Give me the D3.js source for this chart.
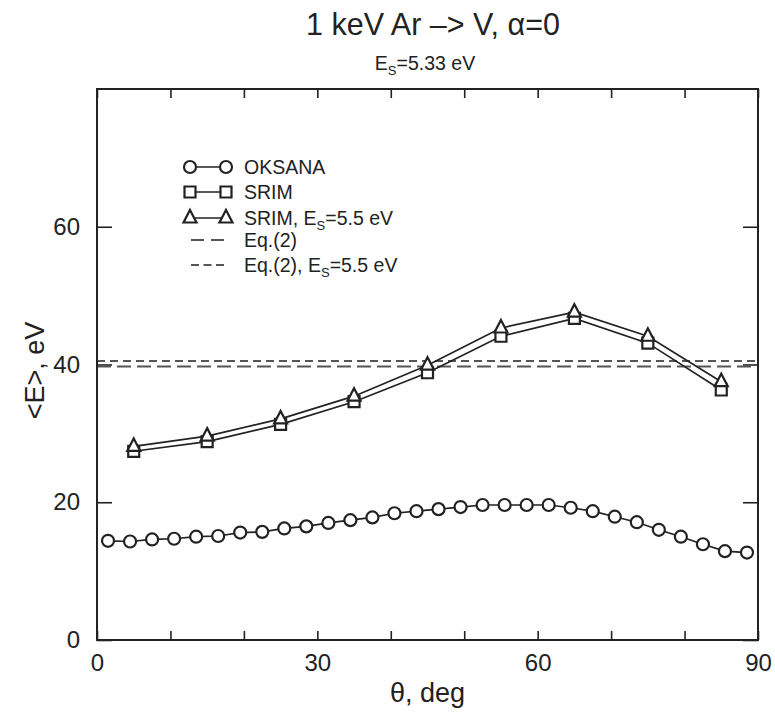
<!DOCTYPE html>
<html>
<head>
<meta charset="utf-8">
<script src="https://cdn.jsdelivr.net/npm/d3@7"></script>
<style>
  body { margin: 0; background: #fff; }
  text { font-family: "Liberation Sans", Arial, Helvetica, sans-serif; fill: #222; }
</style>
</head>
<body>
<div id="chart"></div>
<script>
// OKSANA results
const thetaOksana = [1.5, 4.5, 7.5, 10.5, 13.5, 16.5, 19.5, 22.5, 25.5, 28.5,
  31.5, 34.5, 37.5, 40.5, 43.5, 46.5, 49.5, 52.5, 55.5, 58.5,
  61.5, 64.5, 67.5, 70.5, 73.5, 76.5, 79.5, 82.5, 85.5, 88.5];
const eOksana = [14.4, 14.3, 14.6, 14.7, 15.0, 15.1, 15.6, 15.7, 16.2, 16.5,
  17.0, 17.4, 17.8, 18.4, 18.7, 19.0, 19.3, 19.6, 19.6, 19.6,
  19.6, 19.2, 18.7, 17.9, 17.1, 16.0, 15.0, 13.9, 12.9, 12.7];

// SRIM results
const thetaSrim = [5, 15, 25, 35, 45, 55, 65, 75, 85];
const eSrim = [27.4, 28.8, 31.3, 34.6, 38.8, 44.1, 46.7, 43.1, 36.3];
const eSrim55 = [28.1, 29.6, 32.1, 35.4, 39.9, 45.3, 47.6, 44.1, 37.5];

// Eq.(2) levels
const eq2 = 39.7;
const eq2Es55 = 40.5;

const xTicks = [0, 10, 20, 30, 40, 50, 60, 70, 80, 90];
const xLabels = [0, 30, 60, 90];
const yTicks = [0, 20, 40, 60];

const W = 775, H = 712;
const margin = { top: 89, right: 17, bottom: 72, left: 97 },
  width = W - margin.left - margin.right,
  height = H - margin.top - margin.bottom;

const x = d3.scaleLinear().domain([0, 90]).range([0, width]);
const y = d3.scaleLinear().domain([0, 80]).range([height, 0]);

const svgRoot = d3.select("#chart").append("svg")
  .attr("width", W).attr("height", H);

// title
svgRoot.append("text")
  .attr("x", 433).attr("y", 35)
  .attr("text-anchor", "middle")
  .style("font-size", "30.5px")
  .text("1 keV Ar \u2013> V, \u03b1=0");

const sub = svgRoot.append("text")
  .attr("x", 425).attr("y", 70)
  .attr("text-anchor", "middle")
  .style("font-size", "19.5px");
sub.append("tspan").text("E");
sub.append("tspan").attr("dy", 5).style("font-size", "13px").text("S");
sub.append("tspan").attr("dy", -5).text("=5.33 eV");

const svg = svgRoot.append("g")
  .attr("transform", "translate(" + margin.left + "," + margin.top + ")");

// axes, ticks point inward
const fmtX = (d) => (xLabels.includes(d) ? d : "");
const styleAxis = (g) => {
  g.select(".domain").remove();
  g.selectAll("line").attr("stroke", "#222").attr("stroke-width", 1.6);
  g.selectAll("text").style("font-size", "24px").attr("fill", "#222");
};

svg.append("g")
  .attr("transform", "translate(0," + height + ")")
  .call(d3.axisBottom(x).tickValues(xTicks).tickFormat(fmtX).tickSize(-9).tickPadding(14))
  .call(styleAxis);
svg.append("g")
  .call(d3.axisTop(x).tickValues(xTicks).tickFormat("").tickSize(-9))
  .call(styleAxis);
svg.append("g")
  .call(d3.axisLeft(y).tickValues(yTicks).tickSize(-15).tickPadding(17))
  .call(styleAxis);
svg.append("g")
  .attr("transform", "translate(" + width + ",0)")
  .call(d3.axisRight(y).tickValues(yTicks).tickFormat("").tickSize(-15))
  .call(styleAxis);

// axis titles
svg.append("text")
  .attr("x", width / 2).attr("y", height + 62)
  .attr("text-anchor", "middle")
  .style("font-size", "27px")
  .text("\u03b8, deg");
svg.append("text")
  .attr("transform", "rotate(-90)")
  .attr("x", -height / 2 - 6).attr("y", -53)
  .attr("text-anchor", "middle")
  .style("font-size", "27px")
  .text("<E>, eV");

// Eq.(2) lines
svg.append("line")
  .attr("x1", 0).attr("x2", width)
  .attr("y1", y(eq2)).attr("y2", y(eq2))
  .attr("stroke", "#555").attr("stroke-width", 2)
  .attr("stroke-dasharray", "14,6");
svg.append("line")
  .attr("x1", 0).attr("x2", width)
  .attr("y1", y(eq2Es55)).attr("y2", y(eq2Es55))
  .attr("stroke", "#555").attr("stroke-width", 2)
  .attr("stroke-dasharray", "8,5");

const line = d3.line().x((d) => x(d[0])).y((d) => y(d[1]));
const pts = (xs, ys) => xs.map((v, i) => [v, ys[i]]);

const drawLine = (data) => {
  svg.append("path").datum(data)
    .attr("fill", "none").attr("stroke", "#222").attr("stroke-width", 1.7)
    .attr("d", line);
};

const circlePath = "M6,0A6,6 0 1,1 -6,0A6,6 0 1,1 6,0Z";
const squarePath = "M-5.5,-5.5H5.5V5.5H-5.5Z";
const trianglePath = "M0,-8L6.5,4.5H-6.5Z";

const drawMarkers = (data, shape) => {
  svg.append("g").selectAll("path").data(data).enter().append("path")
    .attr("transform", (d) => "translate(" + x(d[0]) + "," + y(d[1]) + ")")
    .attr("d", shape)
    .attr("fill", "#fff").attr("stroke", "#222").attr("stroke-width", 2.2);
};

const srim = pts(thetaSrim, eSrim);
const srim55 = pts(thetaSrim, eSrim55);
const oks = pts(thetaOksana, eOksana);

drawLine(srim);
drawLine(srim55);
drawMarkers(srim, squarePath);
drawMarkers(srim55, trianglePath);
drawLine(oks);
drawMarkers(oks, circlePath);

// frame
svg.append("rect")
  .attr("width", width).attr("height", height)
  .attr("fill", "none").attr("stroke", "#222").attr("stroke-width", 2);

// legend
const legend = svgRoot.append("g");
const legendItems = [
  { y: 167, kind: "marker", shape: circlePath, label: [["OKSANA"]] },
  { y: 192, kind: "marker", shape: squarePath, label: [["SRIM"]] },
  { y: 218, kind: "marker", shape: trianglePath, label: [["SRIM, E"], ["S", 1], ["=5.5 eV"]] },
  { y: 240, kind: "dash", dash: "13,7", label: [["Eq.(2)"]] },
  { y: 265, kind: "dash", dash: "8,4.5", label: [["Eq.(2), E"], ["S", 1], ["=5.5 eV"]] },
];
legendItems.forEach((it) => {
  if (it.kind === "marker") {
    legend.append("line")
      .attr("x1", 190).attr("x2", 226).attr("y1", it.y).attr("y2", it.y)
      .attr("stroke", "#222").attr("stroke-width", 1.7);
    [190, 226].forEach((cx) => {
      legend.append("path")
        .attr("transform", "translate(" + cx + "," + it.y + ")")
        .attr("d", it.shape)
        .attr("fill", "#fff").attr("stroke", "#222").attr("stroke-width", 2.2);
    });
  } else {
    legend.append("line")
      .attr("x1", 191).attr("x2", 224).attr("y1", it.y).attr("y2", it.y)
      .attr("stroke", "#555").attr("stroke-width", 2)
      .attr("stroke-dasharray", it.dash);
  }
  const t = legend.append("text")
    .attr("x", 244).attr("y", it.y + 7)
    .style("font-size", "19.5px");
  let shifted = false;
  it.label.forEach(([s, isSub]) => {
    const ts = t.append("tspan").text(s);
    if (isSub) {
      ts.attr("dy", 5).style("font-size", "13px");
      shifted = true;
    } else if (shifted) {
      ts.attr("dy", -5);
      shifted = false;
    }
  });
});
</script>
</body>
</html>
